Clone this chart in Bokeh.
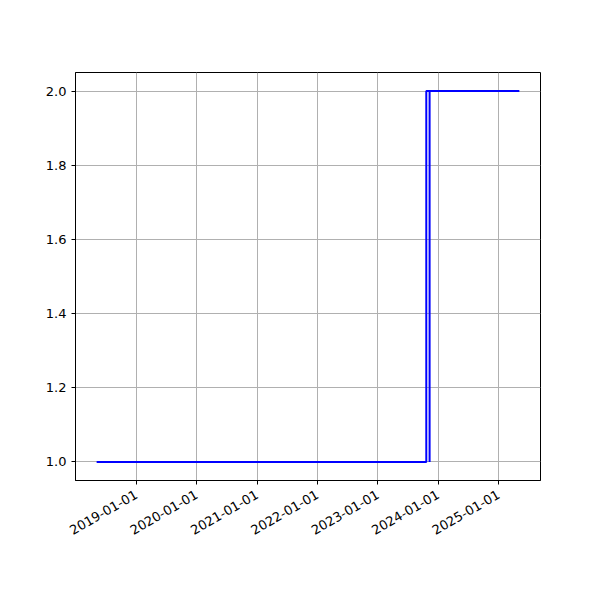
import pandas as pd
from bokeh.plotting import figure
from bokeh.models import FixedTicker, DatetimeTickFormatter, Range1d, NumeralTickFormatter
from bokeh.embed import file_html
from bokeh.resources import INLINE

dates = ["2018-05-06", "2023-10-21", "2023-10-21", "2023-11-10", "2023-11-10", "2023-11-10", "2025-05-06"]
values = [1, 1, 2, 2, 1, 2, 2]
tick_dates = ["2019-01-01", "2020-01-01", "2021-01-01", "2022-01-01", "2023-01-01", "2024-01-01", "2025-01-01"]
y_ticks = [1.0, 1.2, 1.4, 1.6, 1.8, 2.0]

x = pd.to_datetime(dates)
xmin, xmax = x.min(), x.max()
pad = (xmax - xmin) * 0.05
ymin, ymax = min(values), max(values)
ypad = (ymax - ymin) * 0.05

p = figure(width=592, height=592, output_backend="svg", toolbar_location=None,
           x_axis_type="datetime",
           x_range=Range1d(xmin - pad, xmax + pad),
           y_range=Range1d(ymin - ypad, ymax + ypad),
           min_border_left=75, min_border_right=52, min_border_top=72, min_border_bottom=112)

p.line(x, values, line_color="blue", line_width=2)

p.xaxis.ticker = FixedTicker(ticks=[pd.Timestamp(d).value // 10**6 for d in tick_dates])
fmt = "%Y-%m-%d"
p.xaxis.formatter = DatetimeTickFormatter(years=fmt, months=fmt, days=fmt, hours=fmt, minutes=fmt,
                                          seconds=fmt, milliseconds=fmt, microseconds=fmt, minsec=fmt, hourmin=fmt)
p.xaxis.major_label_orientation = 0.5236
p.xaxis.major_label_standoff = 9
p.yaxis.ticker = FixedTicker(ticks=y_ticks)
p.yaxis.formatter = NumeralTickFormatter(format="0.0")

for ax in (p.xaxis, p.yaxis):
    ax.axis_line_color = "black"
    ax.major_tick_line_color = "black"
    ax.major_tick_out = 4
    ax.major_tick_in = 0
    ax.minor_tick_line_color = None
    ax.major_label_text_font = "DejaVu Sans"
    ax.major_label_text_font_size = "13px"
    ax.major_label_text_color = "black"

p.grid.grid_line_color = "#b0b0b0"
p.grid.grid_line_width = 1
p.outline_line_color = "black"
p.outline_line_alpha = 1
p.background_fill_color = "white"
p.border_fill_color = "white"

open("out.html", "w").write(file_html(p, INLINE))
